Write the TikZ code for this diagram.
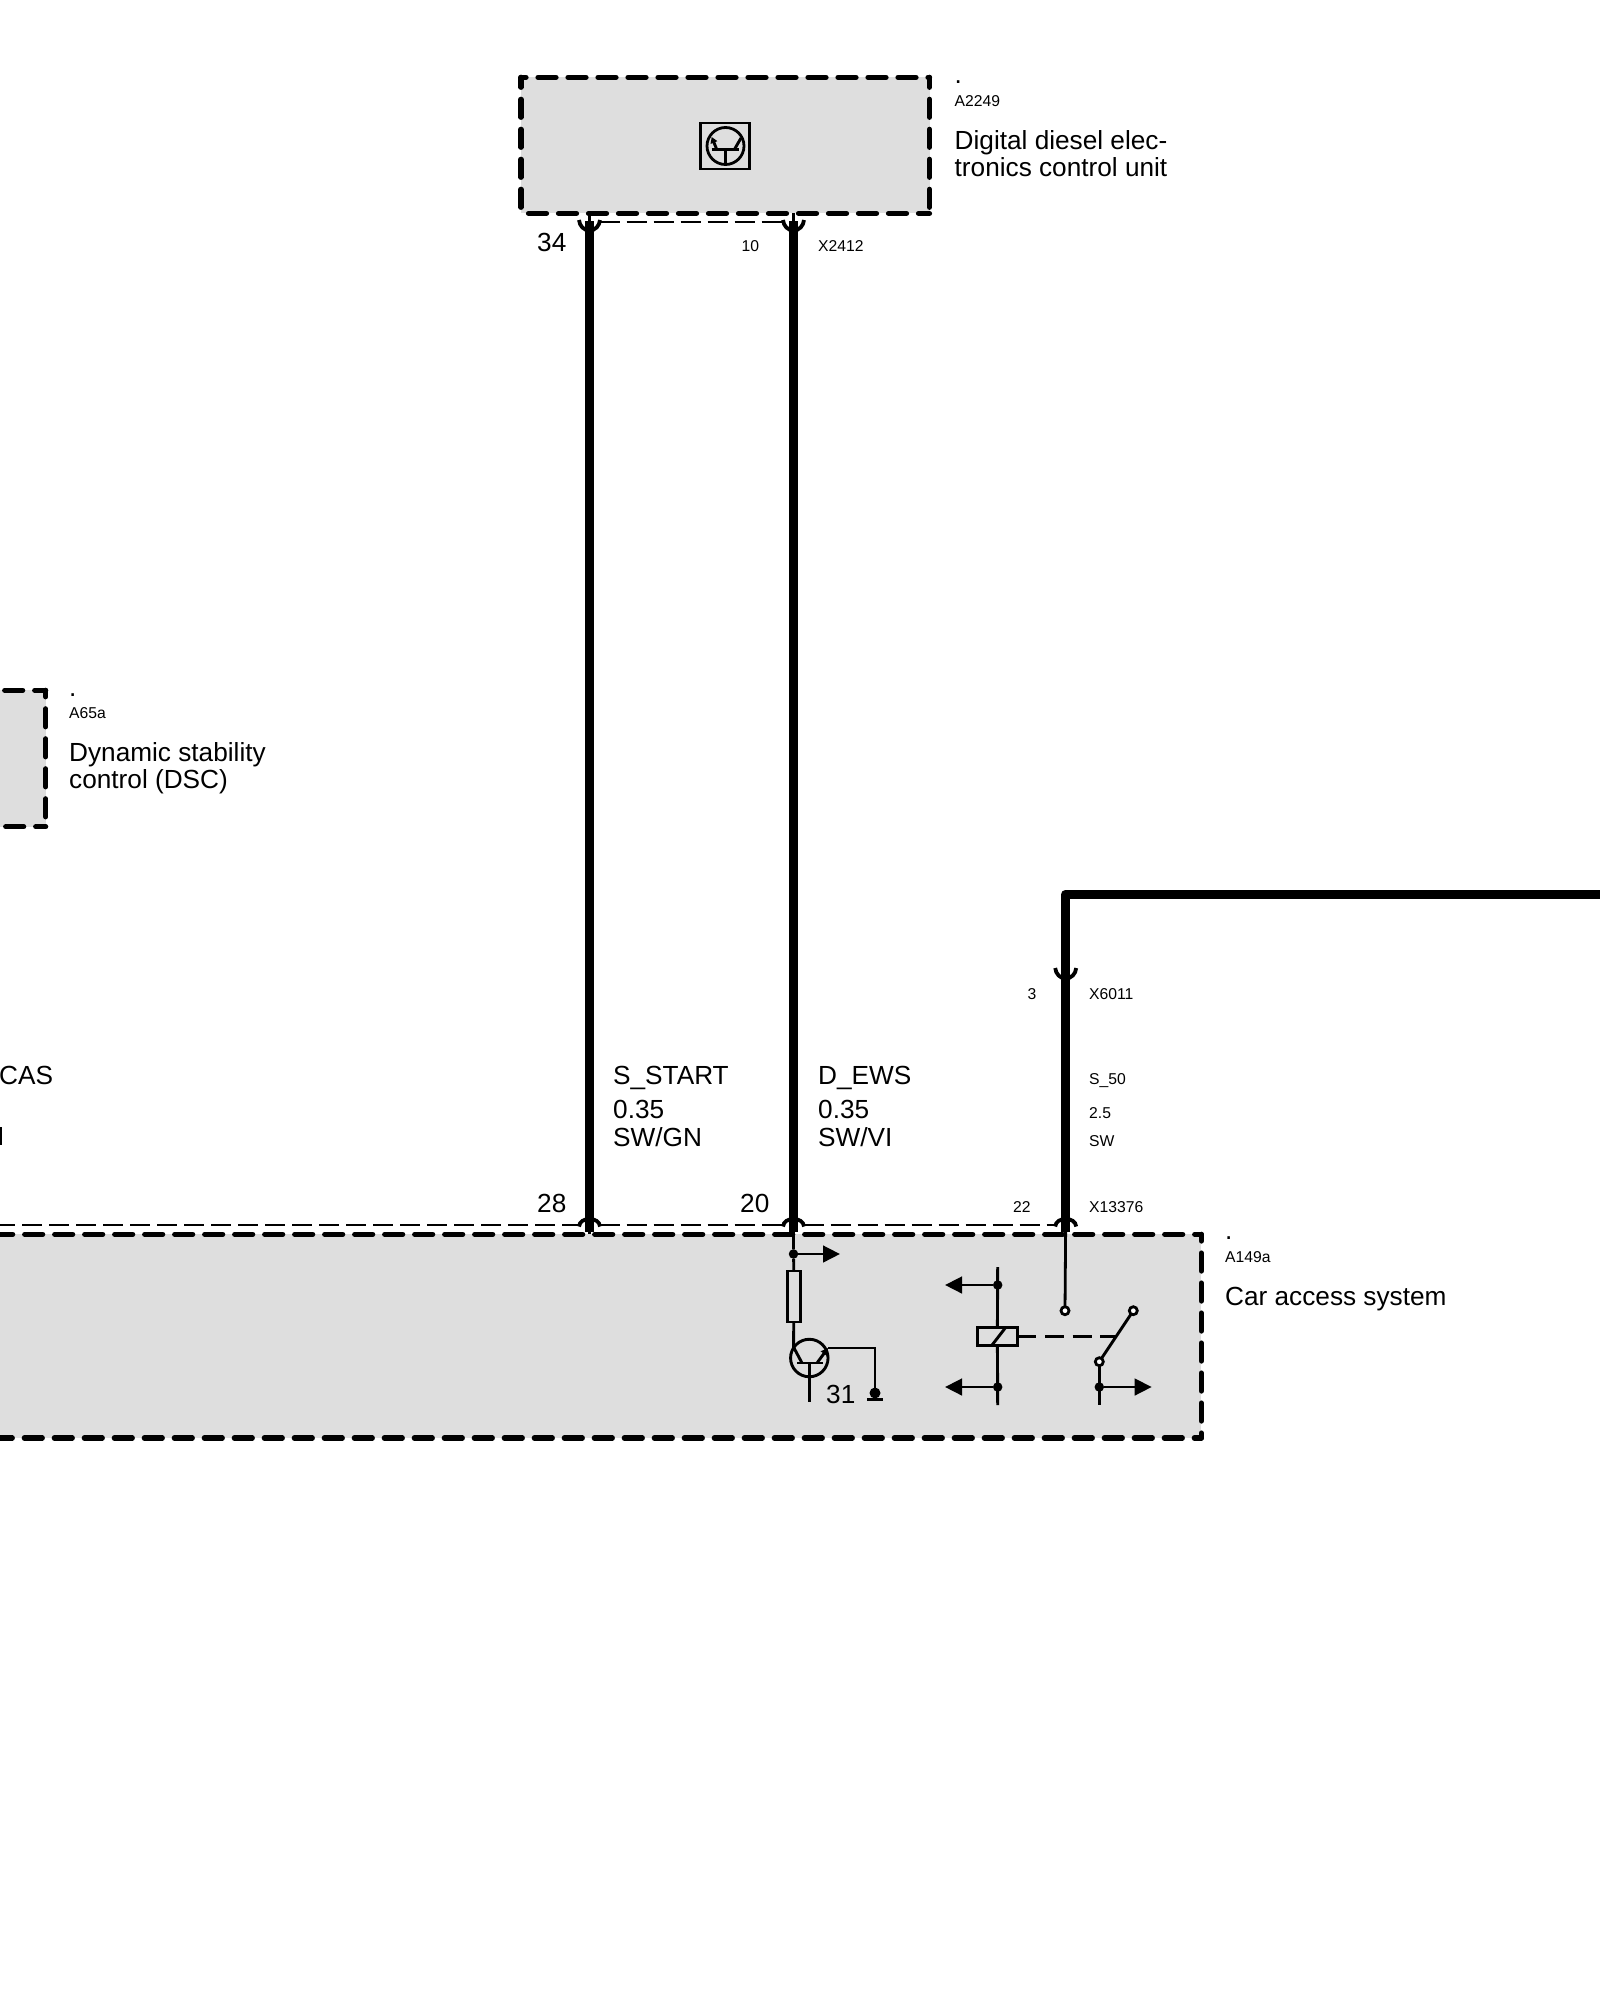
\documentclass[tikz,border=0pt]{standalone}
\usepackage{fontspec}
\setmainfont{Liberation Sans}
\usetikzlibrary{arrows.meta}
\definecolor{unitgrey}{HTML}{DEDEDE}
\tikzset{
  unitfill/.style={fill=unitgrey,draw=none,inner sep=0pt,outer sep=0pt,anchor=north west},
  unitedge/.style={line width=5.2pt,line cap=round,dash pattern=on 18pt off 12pt,dash phase=#1},
  wire/.style={line width=9.2pt,line join=round},
  thin wire/.style={line width=2.8pt},
  dashwire/.style={line width=2.8pt,dash pattern=on 20pt off 7pt},
  pinline/.style={line width=3.8pt,line cap=butt},
  sym/.style={line width=2.9pt},
  symbox/.style={draw,line width=2.9pt,fill=unitgrey,inner sep=0pt,outer sep=0pt,minimum width=#1},
  dotn/.style={circle,fill=black,inner sep=0pt,outer sep=0pt,minimum size=9.5pt},
  contact/.style={circle,draw,fill=white,line width=2.8pt,inner sep=0pt,outer sep=0pt,minimum size=8pt},
  flow/.style={line width=2.9pt,-{Triangle[length=17pt,width=16.5pt]}},
  big/.style={font=\fontsize{26.2}{27}\selectfont,inner sep=0pt,anchor=base west,align=left},
  small/.style={font=\fontsize{15.7}{17}\selectfont,inner sep=0pt,anchor=base west},
  cupmark/.pic={\draw[pinline] (-10.5,-6) .. controls (-10,0) and (-5.5,4.5) .. (0,4.5) .. controls (5.5,4.5) and (10,0) .. (10.5,-6);},
  archmark/.pic={\draw[pinline] (-10.5,1.5) .. controls (-10,-3.5) and (-5.5,-6) .. (0,-6) .. controls (5.5,-6) and (10,-3.5) .. (10.5,1.5);},
}
\begin{document}
\begin{tikzpicture}[x=1pt,y=-1pt]
\useasboundingbox (0,0) rectangle (1600,2000);
\fill[white] (0,0) rectangle (1600,2000);
\clip (0,0) rectangle (1600,2000);

% units
\node[unitfill,minimum width=408.5pt,minimum height=136pt] (dde) at (521,77.3) {};
\node[unitfill,minimum width=66pt,minimum height=136.4pt] (dsc) at (-20.3,690.3) {};
\node[unitfill,minimum width=1241.3pt,minimum height=203.7pt] (cas) at (-40,1234.3) {};
\draw[unitedge=13] (dde.north west) -- (dde.north east);
\draw[unitedge=8] (dde.north east) -- (dde.south east);
\draw[unitedge=7] (dde.south east) -- (dde.south west);
\draw[unitedge=8] (dde.north west) -- (dde.south west);
\draw[unitedge=7] (dsc.north east) -- (dsc.north west);
\draw[unitedge=11.5] (dsc.north east) -- (dsc.south east);
\draw[unitedge=8] (dsc.south east) -- (dsc.south west);
\draw[unitedge=25.3] (cas.north west) -- (cas.north east);
\draw[unitedge=11.3] (cas.north east) -- (cas.south east);
\draw[unitedge=11] (cas.south east) -- (cas.south west);

% connector strips
\coordinate (p34) at (589.5,226);
\coordinate (p10) at (793.5,226);
\coordinate (p28) at (589.5,1225);
\coordinate (p20) at (793.5,1225);
\coordinate (p22) at (1065.7,1225);
\coordinate (p3) at (1065.7,974);
\coordinate (edgeL) at (-5,1225);
\coordinate (corner) at (1065.7,894.3);
\coordinate (offR) at (1610,894.3);

\coordinate (d34) at (589.5,222);
\coordinate (d10) at (793.5,222);
\draw[dashwire] ([xshift=10pt]d34) -- ([xshift=-10pt]d10);
\draw[dashwire] (edgeL) -- ([xshift=-10pt]p28);
\draw[dashwire] ([xshift=10pt]p28) -- ([xshift=-10pt]p20);
\draw[dashwire] ([xshift=10pt]p20) -- ([xshift=-10pt]p22);

% wires
\draw[wire] ([yshift=5pt]p34) -- ([yshift=-6.5pt]p28);
\draw[wire] ([yshift=5pt]p10) -- ([yshift=-6.5pt]p20);
\draw[wire] (offR) -- (corner) -- ([yshift=-12.5pt]p3);
\draw[wire] ([yshift=5pt]p3) -- ([yshift=-6.5pt]p22);

% pin stubs
\draw[thin wire] (p34 |- dde.south) -- ([yshift=-1pt]p34);
\draw[thin wire] (p10 |- dde.south) -- ([yshift=-1pt]p10);
\draw[thin wire] ([yshift=-12.5pt]p3) -- ([yshift=-1.5pt]p3);
\draw[thin wire] ([yshift=2pt]p28) -- (p28 |- cas.north);
\pic at (p34) {cupmark};
\pic at (p10) {cupmark};
\pic at (p3) {cupmark};
\pic at (p28) {archmark};
\pic at (p20) {archmark};
\pic at (p22) {archmark};

% pull-up and transistor in car access system
\node[dotn] (d1) at (793.5,1254) {};
\coordinate (arr1) at (840,1254);
\node[symbox=13pt,minimum height=51pt] (res) at (793.8,1296.5) {};
\draw[thin wire] ([yshift=2pt]p20) -- (d1) -- (res.north);
\draw[flow] (d1) -- (arr1);
\node[circle,draw,line width=2.9pt,inner sep=0pt,minimum size=37.5pt] (tr) at (809.3,1358) {};
\coordinate (trc) at (793.5,1347);
\coordinate (trb1) at (797,1363);
\coordinate (trb2) at (823,1363);
\coordinate (tre) at (828,1348);
\coordinate (trbase) at (809.3,1402);
\coordinate (gndc) at (875,1348);
\node[dotn,minimum size=11pt] (gnd) at (875,1393) {};
\draw[sym] (res.south) -- (trc) -- (802,1363);
\draw[sym] (trb1) -- (trb2);
\draw[sym] (809.3,1363) -- (trbase);
\draw[sym,-{Triangle[length=7pt,width=7.5pt]}] (817,1363) -- (tre);
\draw[sym] (tre) -- (gndc) -- (gnd);
\draw[line width=3pt] (867,1399) -- (883,1399);
\node[big] (t31) at (826,1403) {31};

% relay
\coordinate (r1t) at (997.7,1267);
\coordinate (r1b) at (997.7,1405);
\node[dotn] (rd1) at (997.7,1285) {};
\node[dotn] (rd2) at (997.7,1387) {};
\coordinate (ra1) at (945,1285);
\coordinate (ra2) at (945,1387);
\node[symbox=40pt,minimum height=18pt] (coil) at (997.4,1336.3) {};
\draw[sym] (r1t) -- (coil.north);
\draw[sym] (coil.south) -- (r1b);
\draw[sym] (991.7,1345.5) -- (1006,1327);
\draw[flow] (rd1) -- (ra1);
\draw[flow] (rd2) -- (ra2);
\node[contact] (k1) at (1065,1310.7) {};
\node[contact] (k2) at (1133.3,1310.7) {};
\node[contact] (k3) at (1099.3,1361.7) {};
\node[dotn] (rd3) at (1099.3,1387) {};
\coordinate (k3b) at (1099.3,1405);
\coordinate (ra3) at (1151.7,1387);
\coordinate (armmid) at (1116.7,1336.3);
\draw[thin wire] ([yshift=2pt]p22) -- (k1);
\draw[sym] (k3) -- (k2);
\draw[sym] (k3) -- (k3b);
\draw[flow] (rd3) -- (ra3);
\draw[line width=2.9pt,dash pattern=on 19pt off 8.6pt] (coil.east) -- (armmid);

% symbol in DDE unit
\node[draw,line width=2.8pt,inner sep=0pt,outer sep=0pt,minimum width=49pt,minimum height=46pt] (ecu) at (725.2,146) {};
\node[circle,draw,line width=2.8pt,inner sep=0pt,minimum size=37pt] (ecut) at (725.5,146) {};
\draw[sym] (711.7,149.3) -- (739.3,149.3);
\draw[sym] (725.5,149.3) -- (725.5,165);
\draw[sym,-{Triangle[length=6pt,width=7pt]}] (716.7,149.3) -- (711.7,137);
\draw[sym] (734.5,149.3) -- (741,138);

% labels
\node[big] (dotA) at (954.5,83.5) {.};
\node[small] (nA) at (954.5,106) {A2249};
\node[big] (tA1) at (954.5,149) {Digital diesel elec-};
\node[big] (tA2) at (954.5,176) {tronics control unit};
\node[big] (dotB) at (69,696) {.};
\node[small] (nB) at (69,718) {A65a};
\node[big] (tB1) at (69,761) {Dynamic stability};
\node[big] (tB2) at (69,788) {control (DSC)};
\node[big] (dotC) at (1225,1239) {.};
\node[small] (nC) at (1225,1262) {A149a};
\node[big] (tC) at (1225,1305.5) {Car access system};

\node[big] (l34) at (537,251) {34};
\node[small] (l10) at (741.5,251) {10};
\node[small] (lx1) at (818,251) {X2412};
\node[big] (l28) at (537,1212) {28};
\node[big] (l20) at (740,1212) {20};
\node[small] (l22) at (1013,1212) {22};
\node[small] (lx2) at (1089,1212) {X13376};
\node[small] (l3) at (1027.5,999) {3};
\node[small] (lx3) at (1089,999) {X6011};

\node[big] (sa) at (-1,1084) {CAS};
\fill (0,1127) rectangle (1.6,1145);
\node[big] (s1a) at (613,1084) {S\_START};
\node[big] (s1b) at (613,1118) {0.35};
\node[big] (s1c) at (613,1146) {SW/GN};
\node[big] (s2a) at (818,1084) {D\_EWS};
\node[big] (s2b) at (818,1118) {0.35};
\node[big] (s2c) at (818,1146) {SW/VI};
\node[small] (s3a) at (1089,1084) {S\_50};
\node[small] (s3b) at (1089,1118) {2.5};
\node[small] (s3c) at (1089,1146) {SW};
\end{tikzpicture}
\end{document}
